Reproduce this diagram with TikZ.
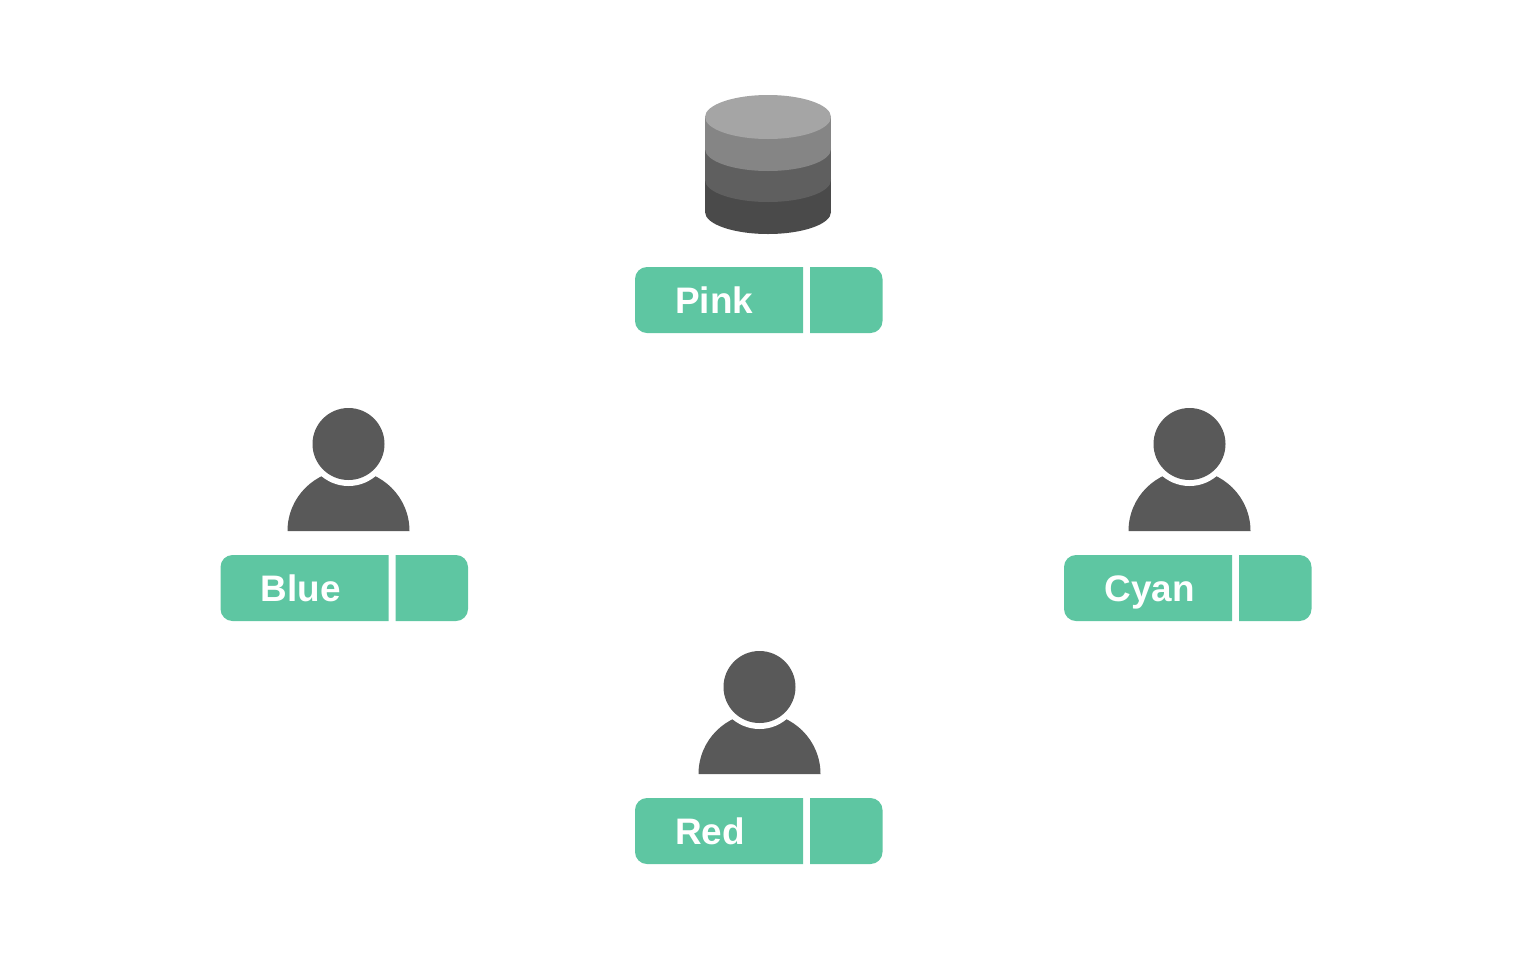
\documentclass[tikz,border=0pt]{standalone}
\usepackage{xcolor}
\usepackage{fontspec}
\setmainfont{Liberation Sans}
\usetikzlibrary{positioning,calc}
\definecolor{barGreen}{HTML}{5EC6A2}
\definecolor{userGray}{HTML}{595959}
\definecolor{dbTop}{HTML}{A5A5A5}
\definecolor{dbUpper}{HTML}{858585}
\definecolor{dbLower}{HTML}{5F5F5F}
\definecolor{dbBase}{HTML}{4A4A4A}
\tikzset{
  barpart/.style={fill=barGreen},
  barlabel/.style={anchor=base west, inner sep=0pt, text=white, font=\fontsize{21}{25}\selectfont\bfseries},
  userpart/.style={fill=userGray}
}

\begin{document}
\begin{tikzpicture}[x=0.02cm, y=-0.02cm]
\useasboundingbox (0,0) rectangle (1538,974);

% Database
\foreach \layery/\layercol in {180/dbBase,148/dbLower,117/dbUpper}{
  \fill[\layercol] (768,\layery+32) ellipse [x radius=63, y radius=22];
  \fill[\layercol] (705,\layery) rectangle (831,\layery+32);
}
\fill[dbTop] (768,117) ellipse [x radius=63, y radius=22];

% Users
\foreach \userx/\usery in {348.5/444,1189.5/444,759.5/687}{
  \fill[userpart] (\userx-61,\usery+87) arc[start angle=180, end angle=360, radius=61] -- cycle;
  \fill[white] (\userx,\usery) circle [radius=42];
  \fill[userpart] (\userx,\usery) circle [radius=36];
}

% Name bars
\foreach \barx/\bary/\barname in {635/267/Pink,220.5/555/Blue,1064/555/Cyan,635/798/Red}{
  \fill[barpart] (\barx+168,\bary) [rounded corners=0.24cm] -- (\barx,\bary) -- (\barx,\bary+66) [sharp corners] -- (\barx+168,\bary+66) -- cycle;
  \fill[barpart] (\barx+175,\bary+66) [rounded corners=0.24cm] -- (\barx+247.5,\bary+66) -- (\barx+247.5,\bary) [sharp corners] -- (\barx+175,\bary) -- cycle;
  \node[barlabel] (label\barname) at (\barx+40,\bary+46) {\barname};
}
\end{tikzpicture}
\end{document}
